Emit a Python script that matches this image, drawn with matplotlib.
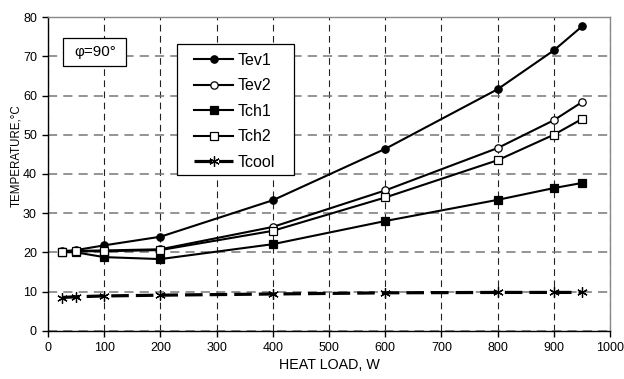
import matplotlib
matplotlib.use("Agg")
import matplotlib.pyplot as plt
from matplotlib.patches import Rectangle

plt.rcParams['font.family'] = ['Liberation Sans', 'DejaVu Sans']

heat_load = [25, 50, 100, 200, 400, 600, 800, 900, 950]
tev1 = [20.3, 20.6, 21.8, 24.0, 33.3, 46.4, 61.6, 71.5, 77.6]
tev2 = [20.2, 20.4, 20.5, 20.8, 26.5, 35.8, 46.6, 53.7, 58.3]
tch1 = [20.1, 20.0, 18.8, 18.3, 22.1, 28.0, 33.4, 36.4, 37.7]
tch2 = [20.2, 20.3, 20.3, 20.6, 25.5, 34.0, 43.5, 50.0, 54.0]
tcool = [8.5, 8.7, 8.9, 9.1, 9.4, 9.7, 9.8, 9.8, 9.8]

fig = plt.figure(figsize=(6.24, 3.79), dpi=100)
ax = fig.add_axes([0.077, 0.127, 0.9006, 0.828])

common = dict(color='black', lw=1.5, mew=0.9, mec='black', zorder=3)
ax.plot(heat_load, tev1, marker='o', ms=5.3, mfc='black', label='Tev1', **common)
ax.plot(heat_load, tev2, marker='o', ms=5.3, mfc='white', label='Tev2', **common)
ax.plot(heat_load, tch1, marker='s', ms=5.3, mfc='black', label='Tch1', **common)
ax.plot(heat_load, tch2, marker='s', ms=5.3, mfc='white', label='Tch2', **common)
ax.plot(heat_load, tcool, marker=(6, 2, 0), color='black', lw=2.3, ms=7.5, mew=0.9,
        dashes=(5.5, 2.2), label='Tcool', zorder=3)

ax.set_xlim(0, 1000)
ax.set_ylim(0, 80)
ax.set_xticks(range(0, 1001, 100))
ax.set_yticks(range(0, 81, 10))

ax.xaxis.grid(True, color='#222222', ls=(0, (6, 4)), lw=0.8)
ax.yaxis.grid(True, color='#777777', ls=(0, (6, 4)), lw=1.1)
ax.set_axisbelow(True)

for side in ('top', 'right'):
    ax.spines[side].set_color('#888888')
    ax.spines[side].set_linewidth(1.0)
for side in ('left', 'bottom'):
    ax.spines[side].set_color('black')
    ax.spines[side].set_linewidth(1.0)

ax.tick_params(direction='out', length=4, width=1, labelsize=9, pad=4)
ax.set_xlabel('HEAT LOAD, W', fontsize=10.3, labelpad=3)
ax.set_ylabel('TEMPERATURE,°C', fontsize=8.3)
ax.yaxis.set_label_coords(-0.046, 0.56)

# angle annotation in a plain box
ax.add_patch(Rectangle((0.0267, 0.844), 0.112, 0.089, transform=ax.transAxes,
                       fc='white', ec='black', lw=0.9, zorder=4))
ax.text(0.0846, 0.889, 'φ=90°', transform=ax.transAxes, ha='center', va='center',
        fontsize=11, zorder=5)

# legend with a separately drawn frame
ax.add_patch(Rectangle((0.2295, 0.4968), 0.2082, 0.4172, transform=ax.transAxes,
                       fc='white', ec='black', lw=0.9, zorder=4))
leg = ax.legend(loc='upper left', bbox_to_anchor=(0.2598, 0.886), fontsize=11.5,
                frameon=False, handlelength=2.45, labelspacing=0.66, borderpad=0,
                handletextpad=0.25, borderaxespad=0)
leg.set_zorder(5)

fig.savefig('out.png', dpi=100)
